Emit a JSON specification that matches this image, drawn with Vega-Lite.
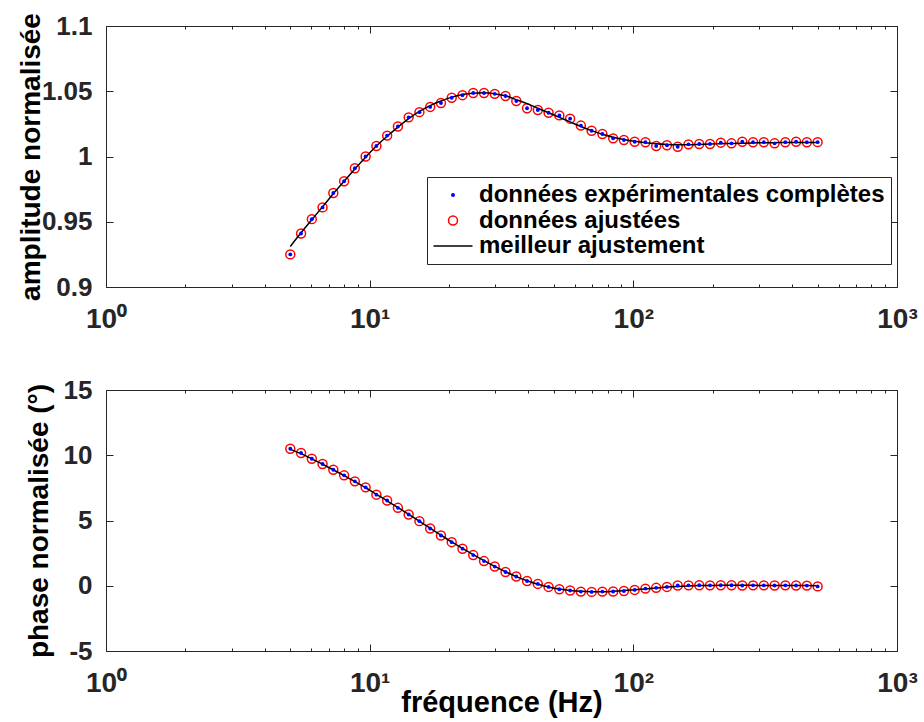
{
  "$schema": "https://vega.github.io/schema/vega-lite/v6.json",
  "autosize": {"type": "none"},
  "padding": {"left": 106, "top": 26, "right": 818, "bottom": 696},
  "bounds": "flush",
  "spacing": 103,
  "config": {
    "font": "Liberation Sans",
    "view": {"stroke": "#262626", "strokeWidth": 1},
    "axis": {
      "domain": false,
      "grid": false,
      "tickColor": "#262626",
      "tickWidth": 1,
      "labelColor": "#262626",
      "titleColor": "#000000",
      "labelFont": "Liberation Sans",
      "labelFontWeight": "bold",
      "titleFont": "Liberation Sans",
      "titleFontWeight": "bold",
      "labelOverlap": false,
      "labelFlush": false
    },
    "legend": {
      "orient": "none",
      "legendX": 321,
      "legendY": 151,
      "strokeColor": "#262626",
      "fillColor": "#ffffff",
      "padding": 6,
      "labelFont": "Liberation Sans",
      "labelFontWeight": "bold",
      "labelFontSize": 24,
      "labelColor": "#000000",
      "labelLimit": 700,
      "rowPadding": 1.5,
      "symbolSize": 380,
      "symbolOffset": 8,
      "labelOffset": 14
    }
  },
  "datasets": {
    "d": [
      {"f": 5.000, "amp": 0.925, "amp_fit": 0.931, "phase": 10.50, "phase_fit": 10.45},
      {"f": 5.493, "amp": 0.941, "amp_fit": 0.9415, "phase": 10.17, "phase_fit": 10.12},
      {"f": 6.034, "amp": 0.952, "amp_fit": 0.9515, "phase": 9.73, "phase_fit": 9.72},
      {"f": 6.628, "amp": 0.961, "amp_fit": 0.9615, "phase": 9.33, "phase_fit": 9.31},
      {"f": 7.281, "amp": 0.972, "amp_fit": 0.9715, "phase": 8.89, "phase_fit": 8.88},
      {"f": 7.999, "amp": 0.981, "amp_fit": 0.981, "phase": 8.46, "phase_fit": 8.44},
      {"f": 8.787, "amp": 0.991, "amp_fit": 0.9905, "phase": 8.00, "phase_fit": 7.98},
      {"f": 9.653, "amp": 1.000, "amp_fit": 0.9995, "phase": 7.54, "phase_fit": 7.51},
      {"f": 10.604, "amp": 1.008, "amp_fit": 1.008, "phase": 6.98, "phase_fit": 7.01},
      {"f": 11.649, "amp": 1.016, "amp_fit": 1.0155, "phase": 6.53, "phase_fit": 6.51},
      {"f": 12.797, "amp": 1.023, "amp_fit": 1.0225, "phase": 5.97, "phase_fit": 5.99},
      {"f": 14.058, "amp": 1.030, "amp_fit": 1.029, "phase": 5.46, "phase_fit": 5.47},
      {"f": 15.443, "amp": 1.034, "amp_fit": 1.0345, "phase": 4.95, "phase_fit": 4.94},
      {"f": 16.965, "amp": 1.038, "amp_fit": 1.039, "phase": 4.39, "phase_fit": 4.41},
      {"f": 18.637, "amp": 1.041, "amp_fit": 1.0425, "phase": 3.85, "phase_fit": 3.88},
      {"f": 20.473, "amp": 1.045, "amp_fit": 1.0455, "phase": 3.34, "phase_fit": 3.36},
      {"f": 22.491, "amp": 1.047, "amp_fit": 1.0475, "phase": 2.84, "phase_fit": 2.86},
      {"f": 24.707, "amp": 1.0487, "amp_fit": 1.0485, "phase": 2.35, "phase_fit": 2.38},
      {"f": 27.142, "amp": 1.0487, "amp_fit": 1.0488, "phase": 1.89, "phase_fit": 1.92},
      {"f": 29.816, "amp": 1.048, "amp_fit": 1.048, "phase": 1.47, "phase_fit": 1.48},
      {"f": 32.754, "amp": 1.0464, "amp_fit": 1.0465, "phase": 1.05, "phase_fit": 1.07},
      {"f": 35.982, "amp": 1.0425, "amp_fit": 1.0435, "phase": 0.71, "phase_fit": 0.70},
      {"f": 39.528, "amp": 1.037, "amp_fit": 1.0405, "phase": 0.36, "phase_fit": 0.38},
      {"f": 43.423, "amp": 1.0356, "amp_fit": 1.037, "phase": 0.14, "phase_fit": 0.11},
      {"f": 47.702, "amp": 1.0335, "amp_fit": 1.0335, "phase": -0.09, "phase_fit": -0.09},
      {"f": 52.403, "amp": 1.0315, "amp_fit": 1.030, "phase": -0.27, "phase_fit": -0.25},
      {"f": 57.567, "amp": 1.029, "amp_fit": 1.0265, "phase": -0.36, "phase_fit": -0.36},
      {"f": 63.240, "amp": 1.0237, "amp_fit": 1.023, "phase": -0.45, "phase_fit": -0.43},
      {"f": 69.472, "amp": 1.0197, "amp_fit": 1.0198, "phase": -0.47, "phase_fit": -0.46},
      {"f": 76.318, "amp": 1.0172, "amp_fit": 1.017, "phase": -0.45, "phase_fit": -0.46},
      {"f": 83.838, "amp": 1.0139, "amp_fit": 1.0148, "phase": -0.44, "phase_fit": -0.43},
      {"f": 92.100, "amp": 1.0126, "amp_fit": 1.013, "phase": -0.40, "phase_fit": -0.38},
      {"f": 101.176, "amp": 1.0113, "amp_fit": 1.0116, "phase": -0.32, "phase_fit": -0.31},
      {"f": 111.146, "amp": 1.0109, "amp_fit": 1.0105, "phase": -0.22, "phase_fit": -0.24},
      {"f": 122.098, "amp": 1.008, "amp_fit": 1.0097, "phase": -0.16, "phase_fit": -0.17},
      {"f": 134.130, "amp": 1.0086, "amp_fit": 1.0092, "phase": -0.09, "phase_fit": -0.10},
      {"f": 147.348, "amp": 1.0075, "amp_fit": 1.009, "phase": 0.02, "phase_fit": -0.05},
      {"f": 161.868, "amp": 1.0093, "amp_fit": 1.009, "phase": 0.03, "phase_fit": -0.01},
      {"f": 177.818, "amp": 1.0096, "amp_fit": 1.0092, "phase": 0.04, "phase_fit": 0.01},
      {"f": 195.341, "amp": 1.0096, "amp_fit": 1.0095, "phase": 0.03, "phase_fit": 0.02},
      {"f": 214.590, "amp": 1.0106, "amp_fit": 1.0098, "phase": 0.04, "phase_fit": 0.03},
      {"f": 235.736, "amp": 1.0101, "amp_fit": 1.010, "phase": 0.04, "phase_fit": 0.03},
      {"f": 258.966, "amp": 1.0113, "amp_fit": 1.0102, "phase": 0.02, "phase_fit": 0.03},
      {"f": 284.485, "amp": 1.0109, "amp_fit": 1.0104, "phase": 0.03, "phase_fit": 0.03},
      {"f": 312.520, "amp": 1.0109, "amp_fit": 1.0105, "phase": 0.03, "phase_fit": 0.02},
      {"f": 343.316, "amp": 1.0101, "amp_fit": 1.0106, "phase": 0.02, "phase_fit": 0.02},
      {"f": 377.148, "amp": 1.0109, "amp_fit": 1.0107, "phase": 0.03, "phase_fit": 0.02},
      {"f": 414.313, "amp": 1.0113, "amp_fit": 1.0107, "phase": 0.02, "phase_fit": 0.01},
      {"f": 455.141, "amp": 1.0109, "amp_fit": 1.0108, "phase": 0.01, "phase_fit": 0.01},
      {"f": 500.000, "amp": 1.011, "amp_fit": 1.0108, "phase": -0.05, "phase_fit": 0.0}
    ]
  },
  "vconcat": [
    {
      "width": 791,
      "height": 261,
      "data": {"name": "d"},
      "layer": [
        {
          "mark": {"type": "point", "filled": false, "size": 80, "strokeWidth": 1.5, "opacity": 1},
          "encoding": {
            "x": {
              "field": "f", "type": "quantitative",
              "scale": {"type": "log", "domain": [1, 1000], "nice": false},
              "axis": {
                "orient": "top",
                "values": [1,2,3,4,5,6,7,8,9,10,20,30,40,50,60,70,80,90,100,200,300,400,500,600,700,800,900,1000],
                "labels": false,
                "tickSize": {"condition": {"test": "indexof([1,10,100,1000], datum.value) >= 0", "value": -7}, "value": -3},
                "title": null
              }
            },
            "y": {
              "field": "amp", "type": "quantitative",
              "scale": {"domain": [0.9, 1.1], "nice": false, "zero": false},
              "axis": {"orient": "right", "values": [0.9, 0.95, 1, 1.05, 1.1], "labels": false, "tickSize": -7, "title": null}
            },
            "color": {
              "datum": "données ajustées",
              "type": "nominal",
              "scale": {
                "domain": ["données expérimentales complètes", "données ajustées", "meilleur ajustement"],
                "range": ["#0000ff", "#ff0000", "#000000"]
              },
              "legend": {
                "title": null,
                "encode": {
                  "symbols": {
                    "update": {
                      "shape": {"signal": "datum.value === 'meilleur ajustement' ? 'M-2,0H2' : 'circle'"},
                      "size": {"signal": "datum.value === 'meilleur ajustement' ? 380 : datum.value === 'données ajustées' ? 80 : 16"},
                      "fill": {"signal": "datum.value === 'données expérimentales complètes' ? '#0000ff' : '#ffffff'"},
                      "fillOpacity": {"signal": "datum.value === 'données expérimentales complètes' ? 1 : 0"},
                      "stroke": {"signal": "datum.value === 'données ajustées' ? '#ff0000' : datum.value === 'meilleur ajustement' ? '#000000' : '#0000ff'"},
                      "strokeOpacity": {"signal": "datum.value === 'données expérimentales complètes' ? 0 : 1"},
                      "strokeWidth": {"value": 1.5},
                      "opacity": {"value": 1}
                    }
                  }
                }
              }
            }
          }
        },
        {
          "mark": {"type": "line", "interpolate": "monotone", "strokeWidth": 1.5},
          "encoding": {
            "x": {
              "field": "f", "type": "quantitative",
              "scale": {"type": "log", "domain": [1, 1000], "nice": false},
              "axis": {
                "orient": "bottom",
                "values": [1,2,3,4,5,6,7,8,9,10,20,30,40,50,60,70,80,90,100,200,300,400,500,600,700,800,900,1000],
                "labelExpr": "datum.value === 1 ? '10⁰' : datum.value === 10 ? '10¹' : datum.value === 100 ? '10²' : datum.value === 1000 ? '10³' : ''",
                "tickSize": {"condition": {"test": "indexof([1,10,100,1000], datum.value) >= 0", "value": -7}, "value": -3},
                "labelPadding": 25,
                "labelFontSize": 28,
                "title": null
              }
            },
            "y": {
              "field": "amp_fit", "type": "quantitative",
              "scale": {"domain": [0.9, 1.1], "nice": false, "zero": false},
              "axis": {
                "orient": "left",
                "values": [0.9, 0.95, 1, 1.05, 1.1],
                "labelExpr": "'' + datum.value",
                "tickSize": -7,
                "labelPadding": 21,
                "labelFontSize": 26,
                "title": "amplitude normalisée",
                "titleFontSize": 28,
                "titleX": -67,
                "titleBaseline": "alphabetic"
              }
            },
            "color": {
              "datum": "meilleur ajustement",
              "type": "nominal",
              "legend": {
                "title": null,
                "encode": {
                  "symbols": {
                    "update": {
                      "shape": {"signal": "datum.value === 'meilleur ajustement' ? 'M-2,0H2' : 'circle'"},
                      "size": {"signal": "datum.value === 'meilleur ajustement' ? 380 : datum.value === 'données ajustées' ? 80 : 16"},
                      "fill": {"signal": "datum.value === 'données expérimentales complètes' ? '#0000ff' : '#ffffff'"},
                      "fillOpacity": {"signal": "datum.value === 'données expérimentales complètes' ? 1 : 0"},
                      "stroke": {"signal": "datum.value === 'données ajustées' ? '#ff0000' : datum.value === 'meilleur ajustement' ? '#000000' : '#0000ff'"},
                      "strokeOpacity": {"signal": "datum.value === 'données expérimentales complètes' ? 0 : 1"},
                      "strokeWidth": {"value": 1.5},
                      "opacity": {"value": 1}
                    }
                  }
                }
              }
            }
          }
        },
        {
          "mark": {"type": "point", "filled": true, "size": 15, "opacity": 1},
          "encoding": {
            "x": {"field": "f", "type": "quantitative", "scale": {"type": "log", "domain": [1, 1000], "nice": false}, "axis": null},
            "y": {"field": "amp", "type": "quantitative", "scale": {"domain": [0.9, 1.1], "nice": false, "zero": false}, "axis": null},
            "color": {
              "datum": "données expérimentales complètes",
              "type": "nominal",
              "legend": {
                "title": null,
                "encode": {
                  "symbols": {
                    "update": {
                      "shape": {"signal": "datum.value === 'meilleur ajustement' ? 'M-2,0H2' : 'circle'"},
                      "size": {"signal": "datum.value === 'meilleur ajustement' ? 380 : datum.value === 'données ajustées' ? 80 : 16"},
                      "fill": {"signal": "datum.value === 'données expérimentales complètes' ? '#0000ff' : '#ffffff'"},
                      "fillOpacity": {"signal": "datum.value === 'données expérimentales complètes' ? 1 : 0"},
                      "stroke": {"signal": "datum.value === 'données ajustées' ? '#ff0000' : datum.value === 'meilleur ajustement' ? '#000000' : '#0000ff'"},
                      "strokeOpacity": {"signal": "datum.value === 'données expérimentales complètes' ? 0 : 1"},
                      "strokeWidth": {"value": 1.5},
                      "opacity": {"value": 1}
                    }
                  }
                }
              }
            }
          }
        }
      ],
      "resolve": {"axis": {"x": "independent", "y": "independent"}}
    },
    {
      "width": 791,
      "height": 261,
      "data": {"name": "d"},
      "layer": [
        {
          "mark": {"type": "point", "filled": false, "size": 80, "strokeWidth": 1.5, "opacity": 1, "color": "#ff0000"},
          "encoding": {
            "x": {
              "field": "f", "type": "quantitative",
              "scale": {"type": "log", "domain": [1, 1000], "nice": false},
              "axis": {
                "orient": "top",
                "values": [1,2,3,4,5,6,7,8,9,10,20,30,40,50,60,70,80,90,100,200,300,400,500,600,700,800,900,1000],
                "labels": false,
                "tickSize": {"condition": {"test": "indexof([1,10,100,1000], datum.value) >= 0", "value": -7}, "value": -3},
                "title": null
              }
            },
            "y": {
              "field": "phase", "type": "quantitative",
              "scale": {"domain": [-5, 15], "nice": false, "zero": false},
              "axis": {"orient": "right", "values": [-5, 0, 5, 10, 15], "labels": false, "tickSize": -7, "title": null}
            }
          }
        },
        {
          "mark": {"type": "line", "interpolate": "monotone", "strokeWidth": 1.5, "color": "#000000"},
          "encoding": {
            "x": {
              "field": "f", "type": "quantitative",
              "scale": {"type": "log", "domain": [1, 1000], "nice": false},
              "axis": {
                "orient": "bottom",
                "values": [1,2,3,4,5,6,7,8,9,10,20,30,40,50,60,70,80,90,100,200,300,400,500,600,700,800,900,1000],
                "labelExpr": "datum.value === 1 ? '10⁰' : datum.value === 10 ? '10¹' : datum.value === 100 ? '10²' : datum.value === 1000 ? '10³' : ''",
                "tickSize": {"condition": {"test": "indexof([1,10,100,1000], datum.value) >= 0", "value": -7}, "value": -3},
                "labelPadding": 25,
                "labelFontSize": 28,
                "title": "fréquence (Hz)",
                "titleFontSize": 29,
                "titleY": 60,
                "titleBaseline": "alphabetic"
              }
            },
            "y": {
              "field": "phase_fit", "type": "quantitative",
              "scale": {"domain": [-5, 15], "nice": false, "zero": false},
              "axis": {
                "orient": "left",
                "values": [-5, 0, 5, 10, 15],
                "labelExpr": "'' + datum.value",
                "tickSize": -7,
                "labelPadding": 21,
                "labelFontSize": 26,
                "title": "phase normalisée (°)",
                "titleFontSize": 28,
                "titleX": -59,
                "titleBaseline": "alphabetic"
              }
            }
          }
        },
        {
          "mark": {"type": "point", "filled": true, "size": 15, "opacity": 1, "color": "#0000ff"},
          "encoding": {
            "x": {"field": "f", "type": "quantitative", "scale": {"type": "log", "domain": [1, 1000], "nice": false}, "axis": null},
            "y": {"field": "phase", "type": "quantitative", "scale": {"domain": [-5, 15], "nice": false, "zero": false}, "axis": null}
          }
        }
      ],
      "resolve": {"axis": {"x": "independent", "y": "independent"}}
    }
  ]
}
